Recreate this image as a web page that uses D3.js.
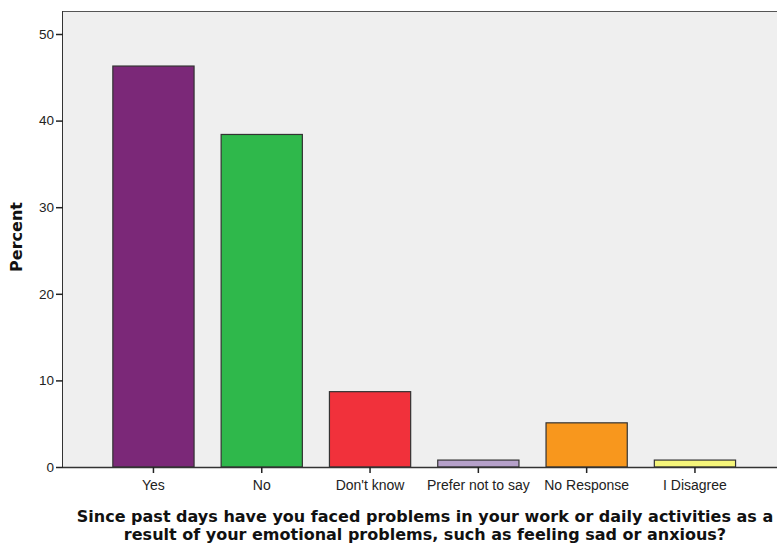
<!DOCTYPE html>
<html><head><meta charset="utf-8">
<script src="https://cdn.jsdelivr.net/npm/d3@7"></script>
<style>body{margin:0;background:#fff;}svg{display:block;font-family:Arial,"Liberation Sans",sans-serif;}</style>
</head><body>
<svg id="c" width="777" height="545"></svg>
<script>
const categories = ["Yes","No","Don't know","Prefer not to say","No Response","I Disagree"];
const values = [46.3, 38.4, 8.7, 0.8, 5.1, 0.8];
const colors = ["#7b2878","#2fb84b","#f1313b","#b5a0c9","#f8971d","#f5f57a"];
const yTicks = [0,10,20,30,40,50];
const xTitle = ["Since past days have you faced problems in your work or daily activities as a","result of your emotional problems, such as feeling sad or anxious?"];

const svg = d3.select("#c");
const pLeft = 63, pTop = 11, pBottom = 467, pRight = 777;
const y = d3.scaleLinear().domain([0,50]).range([pBottom, 34]);
const x = d3.scaleBand().domain(categories).range([99.3, 749.1]).paddingInner(0.25).paddingOuter(0.125);

svg.append("rect").attr("x",pLeft).attr("y",pTop).attr("width",pRight-pLeft).attr("height",pBottom-pTop).attr("fill","#efefef");
svg.append("line").attr("x1",pLeft).attr("x2",pRight).attr("y1",pTop+0.5).attr("y2",pTop+0.5).attr("stroke","#555");

svg.selectAll("rect.bar").data(values).enter().append("rect").attr("class","bar")
  .attr("x",(d,i)=>x(categories[i])).attr("width",x.bandwidth())
  .attr("y",d=>y(d)).attr("height",d=>pBottom-y(d))
  .attr("fill",(d,i)=>colors[i]).attr("stroke","#333").attr("stroke-width",1.2);

const ya = d3.axisLeft(y).tickValues(yTicks).tickSize(7).tickPadding(2);
const gy = svg.append("g").attr("transform",`translate(${pLeft},0)`).call(ya);
gy.select(".domain").attr("d",`M-0.5,${pBottom}V${pTop}`).attr("stroke","#333");
gy.selectAll("text").attr("font-size",13.5).attr("fill","#222").attr("font-family","Arial,'Liberation Sans',sans-serif");
gy.selectAll(".tick line").attr("stroke","#222").attr("stroke-width",1.5);

const xa = d3.axisBottom(x).tickSize(6).tickPadding(7);
const gx = svg.append("g").attr("transform",`translate(0,${pBottom})`).call(xa);
gx.select(".domain").attr("d",`M${pLeft},0.5H${pRight}`).attr("stroke","#333").attr("stroke-width",1.5);
gx.selectAll("text").attr("font-size",14).attr("fill","#222").attr("font-family","Arial,'Liberation Sans',sans-serif");
gx.selectAll(".tick line").attr("stroke","#222").attr("stroke-width",1.5);

svg.append("text").attr("transform","translate(22,237) rotate(-90)").attr("text-anchor","middle")
  .attr("font-size",16).attr("font-weight","bold").attr("font-family","'DejaVu Sans',Verdana,sans-serif").attr("fill","#111").text("Percent");

svg.selectAll("text.xt").data(xTitle).enter().append("text").attr("class","xt")
  .attr("x",425).attr("y",(d,i)=>522+i*18).attr("text-anchor","middle")
  .attr("font-size",16).attr("font-weight","bold").attr("font-family","'DejaVu Sans',Verdana,sans-serif").attr("fill","#111").text(d=>d);
</script>
</body></html>
